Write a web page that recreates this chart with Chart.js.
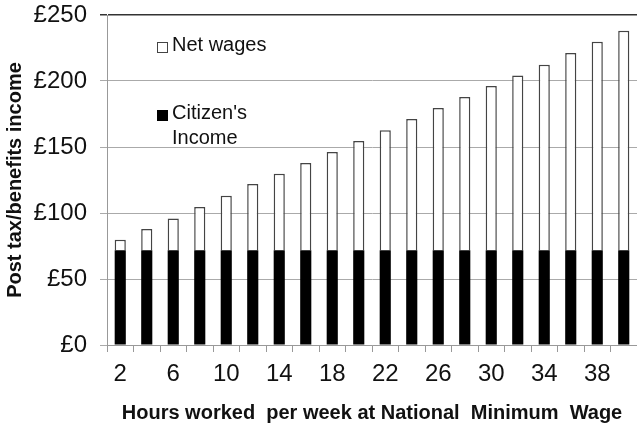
<!DOCTYPE html>
<html>
<head>
<meta charset="utf-8">
<script src="https://cdn.jsdelivr.net/npm/chart.js@4"></script>
<style>
  html, body { margin: 0; padding: 0; background: #fff; }
  #wrap { position: relative; width: 637px; height: 426px; }
  .leg { position: absolute; font-family: "Liberation Sans", Arial, sans-serif; font-size: 20px; line-height: 25px; color: #111; }
  .box { position: absolute; width: 11px; height: 11px; box-sizing: border-box; }
</style>
</head>
<body>
<div id="wrap">
  <canvas id="chart" width="637" height="426"></canvas>
  <div class="box" style="left:157px; top:42px; border:1px solid #444; background:#fff;"></div>
  <div class="leg" style="left:172px; top:32px;">Net wages</div>
  <div class="box" style="left:157px; top:110px; background:#000;"></div>
  <div class="leg" style="left:172px; top:100px;">Citizen's<br>Income</div>
</div>
<script>
const hours = [2, 4, 6, 8, 10, 12, 14, 16, 18, 20, 22, 24, 26, 28, 30, 32, 34, 36, 38, 40];
const xTickLabels = [2, 6, 10, 14, 18, 22, 26, 30, 34, 38];
const citizensIncome = [71.7, 71.7, 71.7, 71.7, 71.7, 71.7, 71.7, 71.7, 71.7, 71.7,
  71.7, 71.7, 71.7, 71.7, 71.7, 71.7, 71.7, 71.7, 71.7, 71.7];
const netWages = [8.0, 16.1, 24.1, 32.8, 41.3, 50.2, 58.0, 66.2, 74.5, 82.8,
  90.9, 99.5, 107.9, 116.2, 124.6, 132.4, 140.7, 149.6, 158.0, 166.3];
const yTicks = [0, 50, 100, 150, 200, 250];

const font = "'Liberation Sans', Arial, sans-serif";

const ctx = document.getElementById("chart").getContext("2d");
new Chart(ctx, {
  type: "bar",
  data: {
    labels: hours,
    datasets: [
      {
        label: "Citizen's Income",
        data: citizensIncome,
        backgroundColor: "#000",
        borderWidth: 0,
        barPercentage: 0.42,
        categoryPercentage: 1,
      },
      {
        label: "Net wages",
        data: netWages,
        backgroundColor: "#fff",
        borderColor: "#444",
        borderWidth: 1.5,
        barPercentage: 0.42,
        categoryPercentage: 1,
      },
    ],
  },
  options: {
    responsive: false,
    animation: false,
    layout: { padding: { top: 15, right: 0, bottom: 0, left: 0 } },
    plugins: { legend: { display: false }, tooltip: { enabled: false } },
    scales: {
      x: {
        stacked: true,
        afterFit: (s) => { s.height = 81; },
        grid: { drawOnChartArea: false, drawTicks: true, tickLength: 7, color: "#999", offset: true },
        border: { color: "#999" },
        ticks: {
          autoSkip: false,
          maxRotation: 0,
          padding: 8,
          color: "#111",
          font: { family: font, size: 24 },
          callback: function (v, i) {
            return xTickLabels.includes(hours[i]) ? String(hours[i]) : "";
          },
        },
        title: {
          display: true,
          text: "Hours worked  per week at National  Minimum  Wage",
          color: "#111",
          padding: { top: 0, bottom: 1 },
          font: { family: font, size: 20, weight: "bold" },
        },
      },
      y: {
        stacked: true,
        min: 0,
        max: 250,
        afterFit: (s) => {
          s.width = 107;
          s.paddingTop = 0;
          s.paddingBottom = 0;
        },
        afterBuildTicks: (s) => { s.ticks = yTicks.map((v) => ({ value: v })); },
        grid: {
          tickLength: 7,
          color: (c) => (c.tick && c.tick.value === 250 ? "#333" : "#aaa"),
          lineWidth: (c) => (c.tick && c.tick.value === 250 ? 1.5 : 1),
        },
        border: { color: "#999" },
        ticks: {
          padding: 13,
          color: "#111",
          font: { family: font, size: 24 },
          callback: (v) => "£" + v,
        },
        title: {
          display: true,
          text: "Post tax/benefits income",
          color: "#111",
          padding: { top: 3, bottom: 0 },
          font: { family: font, size: 20, weight: "bold" },
        },
      },
    },
  },
});
</script>
</body>
</html>
